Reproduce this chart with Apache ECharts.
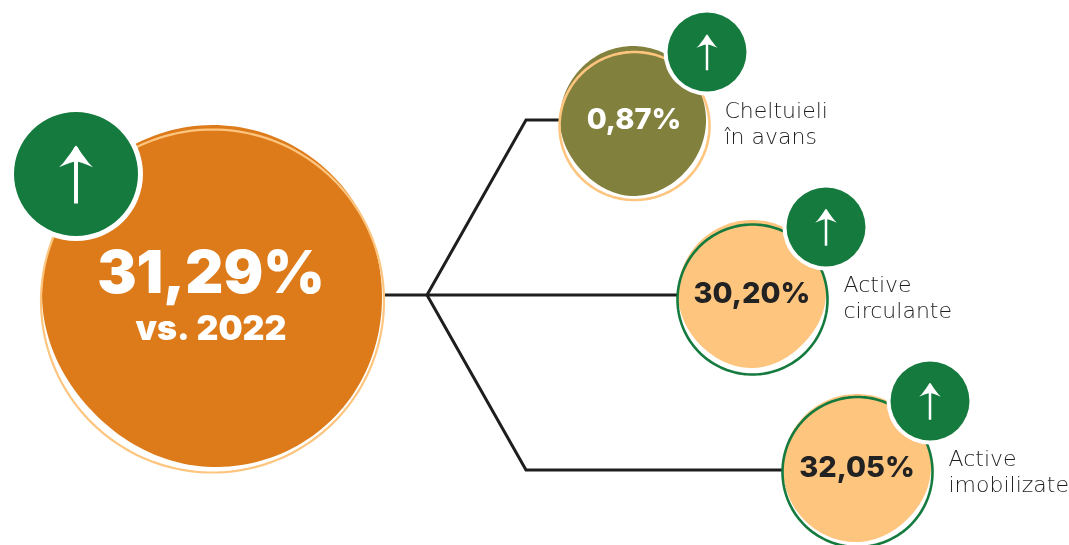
<!DOCTYPE html>
<html><head><meta charset="utf-8">
<style>html,body{margin:0;padding:0;background:#fff}#c{width:1069px;height:545px}</style>
<script src="https://cdn.jsdelivr.net/npm/echarts@6/dist/echarts.min.js"></script>
</head><body><div id="c"></div>
<script>
// ---- data ----
const totalValue = 31.29;
const compareYear = 2022;
const categories = ['Cheltuieli\nîn avans', 'Active\ncirculante', 'Active\nimobilizate'];
const categoryValues = [0.87, 30.20, 32.05];

// ---- layout (pixel plot units, not data) ----
const W = 1069, H = 545;
// fill blob: cx, cy, rx, ry, radial multipliers every 45deg from east, clockwise on screen
const fillBlobs = [
  [212, 296, 170, 171, [1, 1.01, 1, 0.975, 1, 0.995, 1, 1.0]],
  [633, 121, 73, 75, [1, 0.985, 1, 0.965, 1, 1.0, 1, 1.0]],
  [752, 294, 74, 74, [1, 0.965, 1, 0.98, 1, 1.0, 1, 1.0]],
  [857, 468, 74, 74, [1, 0.97, 1, 1.0, 1, 1.0, 1, 1.0]]
];
const outlineBlobs = [
  [212.5, 301, 171.5, 171.5, [1, 1, 1, 1, 1, 1, 1, 1]],
  [634.5, 126, 75, 74, [1, 1, 1, 1, 1, 1, 1, 1]],
  [752.5, 299.5, 75, 75, [1, 1, 1, 1, 1, 1, 1, 1]],
  [857.5, 472, 75, 75, [1, 1, 1, 1, 1, 1, 1, 1]]
];
const badges = [[76, 174, 62, 67, 58], [707, 52, 39.5, 43.5, 36], [826, 227, 39.5, 43.5, 37], [930, 401, 39.5, 43.5, 37]];
const connectors = [
  [[385, 295], [427, 295]],
  [[427, 295], [526, 120], [560, 120]],
  [[427, 295], [678, 295]],
  [[427, 295], [526, 470], [783, 470]]
];
const valueText = [[211, 275], [634, 120], [752, 294], [857, 468]];
const labelPos = [[724.5, 112], [843.5, 286], [948.5, 460]];
const GREEN = '#157a3e', ORANGE = '#dd7b1b', OLIVE = '#82803d', PEACH = '#fec57f', INK = '#222222';
const fillColors = [ORANGE, OLIVE, PEACH, PEACH];
const outlineColors = [PEACH, PEACH, GREEN, GREEN];
const FF = 'Inter, sans-serif';
const LF = '"DejaVu Sans Light", "DejaVu Sans", sans-serif';

const fmt = v => v.toFixed(2).replace('.', ',') + '%';
const blobPoints = (api, b) => {
  const [cx, cy, rx, ry, m] = b, pts = [], n = 180;
  for (let i = 0; i < n; i++) {
    const a = i / n * Math.PI * 2, t = a / (Math.PI / 4), k = Math.floor(t), f = t - k;
    const g = j => m[((k + j) % 8 + 8) % 8];
    // periodic Catmull-Rom over the multipliers
    const mul = 0.5 * (2 * g(0) + (g(1) - g(-1)) * f + (2 * g(-1) - 5 * g(0) + 4 * g(1) - g(2)) * f * f + (3 * g(0) - g(-1) - 3 * g(1) + g(2)) * f * f * f);
    pts.push(api.coord([cx + Math.cos(a) * rx * mul, cy + Math.sin(a) * ry * mul]));
  }
  return pts;
};
const arrowUnit = [[0,0],[.03,.03],[.06,.08],[.1,.14],[.16,.22],[.22,.3],[.293,.374],[.2,.335],[.11,.3],[.034,.28],[.034,1],
  [-.034,1],[-.034,.28],[-.11,.3],[-.2,.335],[-.293,.374],[-.22,.3],[-.16,.22],[-.1,.14],[-.06,.08],[-.03,.03]];

const seriesData = fillBlobs.map((_, i) => [i]);
const renderItem = (params, api) => {
  const i = api.value(0), kids = [];
  kids.push({ type: 'polygon', shape: { points: blobPoints(api, fillBlobs[i]) }, style: { fill: fillColors[i] } });
  kids.push({ type: 'polygon', shape: { points: blobPoints(api, outlineBlobs[i]) },
    style: { fill: 'none', stroke: outlineColors[i], lineWidth: i === 0 ? 2.2 : 2.6 } });
  const [bx, by, br, brr, ah] = badges[i];
  const c = api.coord([bx, by]);
  kids.push({ type: 'circle', shape: { cx: c[0], cy: c[1], r: brr }, style: { fill: '#fff' } });
  kids.push({ type: 'circle', shape: { cx: c[0], cy: c[1], r: br }, style: { fill: GREEN } });
  const top = by - ah * 0.49;
  kids.push({ type: 'polygon', shape: { points: arrowUnit.map(p => api.coord([bx + p[0] * ah, top + p[1] * ah])) }, style: { fill: '#fff' } });
  const t = api.coord(valueText[i]);
  if (i === 0) {
    kids.push({ type: 'text', style: { x: t[0], y: t[1], text: fmt(totalValue), fill: '#fff', align: 'center', verticalAlign: 'middle', font: `900 59px ${FF}` } });
    const t2 = api.coord([t[0], 330]);
    kids.push({ type: 'text', style: { x: t2[0], y: t2[1], text: 'vs. ' + compareYear, fill: '#fff', align: 'center', verticalAlign: 'middle', font: `900 34px ${FF}` } });
  } else {
    const val = categoryValues[i - 1];
    kids.push({ type: 'text', style: { x: t[0], y: t[1], text: fmt(val), fill: i === 1 ? '#fff' : INK, align: 'center', verticalAlign: 'middle', font: `800 29px ${FF}` } });
    const lp = api.coord(labelPos[i - 1]);
    categories[i - 1].split('\n').forEach((ln, j) => {
      kids.push({ type: 'text', style: { x: lp[0], y: lp[1] + j * 26, text: ln, fill: '#1e1e1e', align: 'left', verticalAlign: 'middle', font: `300 22px ${LF}` } });
    });
  }
  return { type: 'group', children: kids };
};

const chart = echarts.init(document.getElementById('c'), null, { renderer: 'canvas' });
chart.setOption({
  animation: false,
  backgroundColor: '#fff',
  grid: { left: 0, right: 0, top: 0, bottom: 0 },
  xAxis: { type: 'value', min: 0, max: W, show: false },
  yAxis: { type: 'value', min: 0, max: H, inverse: true, show: false },
  series: [
    ...connectors.map(line => ({
      type: 'line', data: line, symbol: 'none', silent: true, z: 1,
      lineStyle: { color: '#1e1e1e', width: 3, join: 'miter' }
    })),
    { type: 'custom', data: seriesData, renderItem, encode: { x: [], y: [] }, silent: true, z: 2, clip: false }
  ]
});
</script></body></html>
